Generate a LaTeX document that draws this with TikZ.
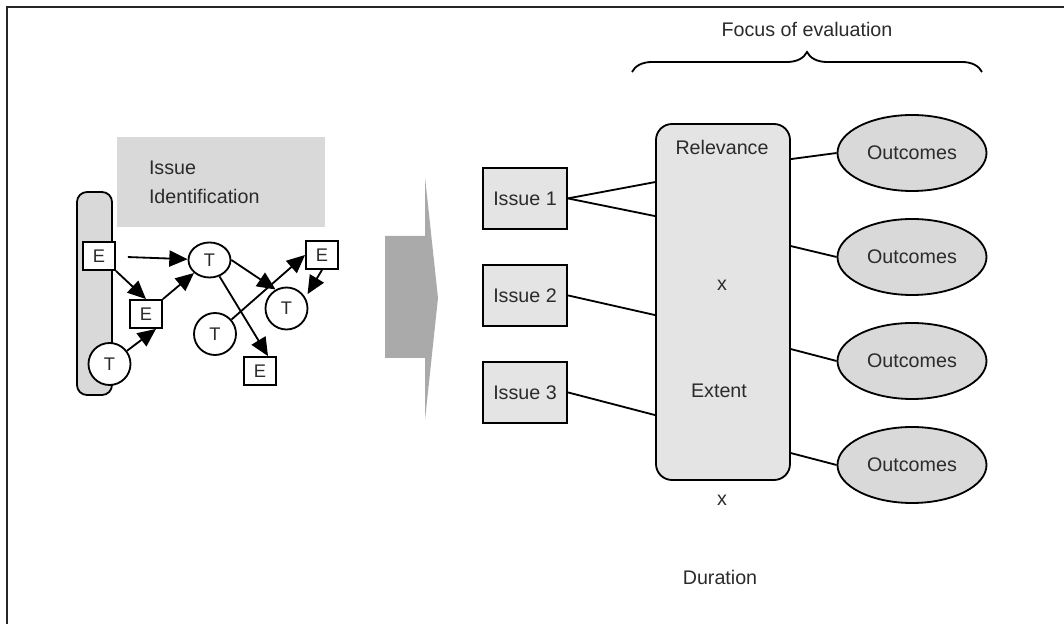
\documentclass[tikz,border=0pt]{standalone}
\usepackage{fontspec}
\setmainfont{Liberation Sans}
\usetikzlibrary{arrows.meta,positioning,shapes.geometric,decorations.pathreplacing}
\definecolor{boxgray}{HTML}{E4E4E4}
\definecolor{bandgray}{HTML}{D9D9D9}
\definecolor{arrgray}{HTML}{AAAAAA}
\definecolor{txt}{HTML}{2B2B2B}
\tikzset{>={Triangle[length=13pt,width=11.5pt]},
  font=\fontsize{14}{17}\selectfont,
  issue/.style={draw,fill=boxgray,minimum width=2.1cm,minimum height=1.525cm,inner sep=0pt,node distance=2.425cm},
  outc/.style={ellipse,draw,fill=bandgray,minimum width=3.725cm,minimum height=1.9cm,inner sep=0pt,node distance=2.6cm},
  ebox/.style={draw,fill=white,minimum width=0.8cm,minimum height=0.7cm,inner sep=0pt,font=\fontsize{13}{15}\selectfont},
  tok/.style={ellipse,draw,fill=white,minimum width=1.05cm,minimum height=1.05cm,inner sep=0pt,font=\fontsize{13}{15}\selectfont}}

\begin{document}
\begin{tikzpicture}[line width=1.3pt,text=txt]
\useasboundingbox (0,0) rectangle (26.6,-15.6);
\draw[line width=1pt,black!85] (26.6,-0.175) -- (0.175,-0.175) -- (0.175,-15.6);

% left part
\node[fill=bandgray,minimum width=5.2cm,minimum height=2.25cm,text width=3.6cm,inner xsep=0.8cm,align=left] (idbox) at (5.525,-4.55) {Issue\\[3.5pt]Identification};
\node[draw,fill=bandgray,rounded corners=0.25cm,minimum width=0.875cm,minimum height=5.075cm] (bar) at (2.3625,-7.3375) {};

\node[ebox] (e1) at (2.475,-6.4) {E};
\node[ebox] (e2) at (3.65,-7.85) {E};
\node[ebox] (e3) at (8.05,-6.375) {E};
\node[ebox] (e4) at (6.5,-9.275) {E};
\node[tok,minimum height=0.875cm] (t1) at (5.2375,-6.5) {T};
\node[tok] (t2) at (2.7375,-9.1) {T};
\node[tok] (t3) at (5.375,-8.35) {T};
\node[tok] (t4) at (7.1625,-7.7125) {T};

\path[->]
  (e1) edge[shorten <=0.3cm] (t1)
  (e1.south east) edge (e2.north)
  (e2.north east) edge (t1)
  (t2) edge ([xshift=0.25cm]e2.south)
  (t1.east) edge (t4.120)
  (t3) edge (e3.west)
  (t1) edge ([xshift=0.2cm]e4.north)
  (e3.south) edge[shorten >=0.1cm] (t4.30)
  ;

% big arrow
\fill[arrgray] (9.625,-5.9) -- (10.625,-5.9) -- (10.625,-4.425) -- (10.95,-7.45)
  -- (10.625,-10.5) -- (10.625,-8.95) -- (9.625,-8.95) -- cycle;

% issues
\node[issue] (i1) at (13.125,-4.96) {Issue 1};
\node[issue,below of=i1] (i2) {Issue 2};
\node[issue,below of=i2] (i3) {Issue 3};

% focus box
\node[draw,fill=boxgray,rounded corners=0.4cm,minimum width=3.35cm,minimum height=8.9cm] (focus) at (18.075,-7.55) {};
\node (rel) at (18.05,-3.675) {Relevance};
\node (x1) at (18.05,-7.125) {x};
\node (ext) at (17.975,-9.775) {Extent};
\node (x2) at (18.05,-12.5) {x};
\node (dur) at (18.0,-14.425) {Duration};

% outcomes
\node[outc] (o1) at (22.8,-3.825) {Outcomes};
\node[outc,below of=o1] (o2) {Outcomes};
\node[outc,below of=o2] (o3) {Outcomes};
\node[outc,below of=o3] (o4) {Outcomes};

\path
  (i1.east) edge ([yshift=-1.475cm]focus.north west)
  (i1.east) edge ([yshift=-2.325cm]focus.north west)
  (i2.east) edge ([yshift=-4.8cm]focus.north west)
  (i3.east) edge ([yshift=-7.3cm]focus.north west)
  ([yshift=-0.9cm]focus.north east) edge (o1.west)
  ([yshift=-3.075cm]focus.north east) edge (o2.west)
  ([yshift=-5.65cm]focus.north east) edge (o3.west)
  ([yshift=-8.25cm]focus.north east) edge (o4.west)
  ;

\draw[decorate,decoration={brace,amplitude=0.5cm}] (15.8,-1.8) -- (24.55,-1.8) node[midway,above=0.75cm] (foc) {Focus of evaluation};
\end{tikzpicture}
\end{document}
